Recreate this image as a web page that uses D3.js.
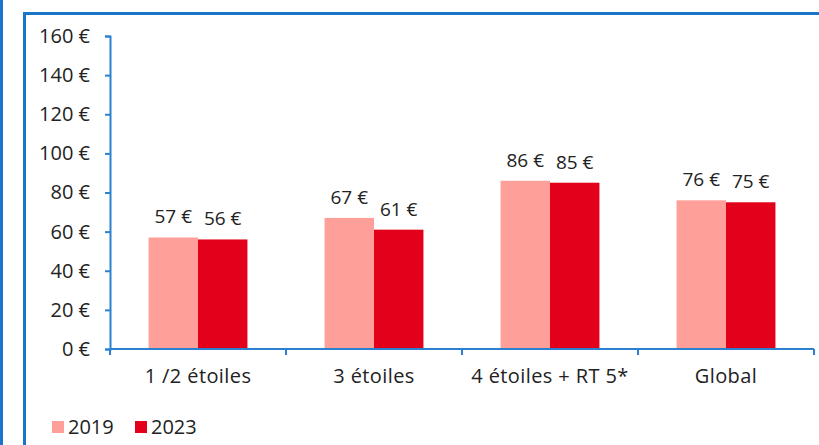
<!DOCTYPE html>
<html>
<head>
<meta charset="utf-8">
<script src="https://cdn.jsdelivr.net/npm/d3@7"></script>
<style>
  body { margin: 0; background: #fff; }
  text { font-family: "Open Sans", Lato, sans-serif; fill: #222; }
</style>
</head>
<body>
<svg id="chart"></svg>
<script>
var categories = ["1 /2 étoiles", "3 étoiles", "4 étoiles + RT 5*", "Global"];
var series = ["2019", "2023"];
var values2019 = [57, 67, 86, 76];
var values2023 = [56, 61, 85, 75];
var yTicks = [0, 20, 40, 60, 80, 100, 120, 140, 160];
var colors = ["#ff9f9a", "#e2001a"];

var screen = {width: 819, height: 445};
var margins = {left: 110, right: 5, top: 36, bottom: 96};
var graph = {
    width: screen.width - margins.left - margins.right,
    height: screen.height - margins.top - margins.bottom
};
var fontSize = "19px";

var svg = d3.select("#chart")
    .attr("width", screen.width)
    .attr("height", screen.height);

// frame
svg.append("line")
    .attr("x1", 1.5).attr("x2", 1.5)
    .attr("y1", 0).attr("y2", screen.height)
    .attr("stroke", "#1a75c9").attr("stroke-width", 3);
svg.append("rect")
    .attr("x", 24.5).attr("y", 13.5)
    .attr("width", 900).attr("height", 500)
    .attr("fill", "none")
    .attr("stroke", "#1a75c9").attr("stroke-width", 3);

var target = svg.append("g")
    .attr("transform", "translate(" + margins.left + "," + margins.top + ")");

var xScale = d3.scaleBand()
    .domain(categories)
    .range([0, 704]);

var yScale = d3.scaleLinear()
    .domain([0, 160])
    .range([graph.height, 0]);

var inner = d3.scaleBand()
    .domain(series)
    .range([0, xScale.bandwidth()])
    .paddingOuter(0.78);

var rows = categories.map(function(c, i) {
    return {cat: c, vals: [values2019[i], values2023[i]]};
});

var groups = target.selectAll(".grp")
    .data(rows)
    .enter()
    .append("g")
    .attr("transform", function(d) { return "translate(" + xScale(d.cat) + ",0)"; });

groups.selectAll("rect")
    .data(function(d) { return d.vals.map(function(v, j) { return {s: series[j], v: v, j: j}; }); })
    .enter()
    .append("rect")
    .attr("x", function(d) { return inner(d.s); })
    .attr("width", inner.bandwidth())
    .attr("y", function(d) { return yScale(d.v); })
    .attr("height", function(d) { return graph.height - yScale(d.v); })
    .attr("fill", function(d) { return colors[d.j]; });

groups.selectAll(".lbl")
    .data(function(d) { return d.vals.map(function(v, j) { return {s: series[j], v: v}; }); })
    .enter()
    .append("text")
    .attr("x", function(d) { return inner(d.s) + inner.bandwidth() / 2; })
    .attr("y", function(d) { return yScale(d.v) - 14; })
    .attr("text-anchor", "middle")
    .style("font-size", fontSize)
    .text(function(d) { return d.v + " €"; });

// axes
var yAxis = d3.axisLeft(yScale)
    .tickValues(yTicks)
    .tickSize(5)
    .tickPadding(15)
    .tickFormat(function(d) { return d + " €"; });
var yg = target.append("g").call(yAxis);

var xAxis = d3.axisBottom(xScale).tickSize(0).tickPadding(20);
var xg = target.append("g")
    .attr("transform", "translate(0," + graph.height + ")")
    .call(xAxis);

[yg, xg].forEach(function(g) {
    g.select(".domain").attr("stroke", "#2b80cf").attr("stroke-width", 2);
    g.selectAll(".tick line").attr("stroke", "#2b80cf").attr("stroke-width", 2);
    g.selectAll("text")
        .style("font-size", "20px")
        .style("font-family", "'Open Sans', sans-serif")
        .attr("fill", "#222");
});
xg.selectAll("text").style("letter-spacing", "0.4px");
xg.select(".domain").attr("d", "M0,0H704");

// boundary ticks on the x axis
xg.selectAll(".sep")
    .data(d3.range(categories.length + 1))
    .enter()
    .append("line")
    .attr("x1", function(i) { return i * xScale.step(); })
    .attr("x2", function(i) { return i * xScale.step(); })
    .attr("y1", 0).attr("y2", 6)
    .attr("stroke", "#2b80cf").attr("stroke-width", 2);

// legend
var legend = svg.append("g").attr("transform", "translate(52,421)");
series.forEach(function(s, i) {
    var item = legend.append("g").attr("transform", "translate(" + (i * 83) + ",0)");
    item.append("rect")
        .attr("width", 12).attr("height", 12)
        .attr("fill", colors[i]);
    item.append("text")
        .attr("x", 16).attr("y", 13)
        .style("font-size", "20px")
        .text(s);
});
</script>
</body>
</html>
